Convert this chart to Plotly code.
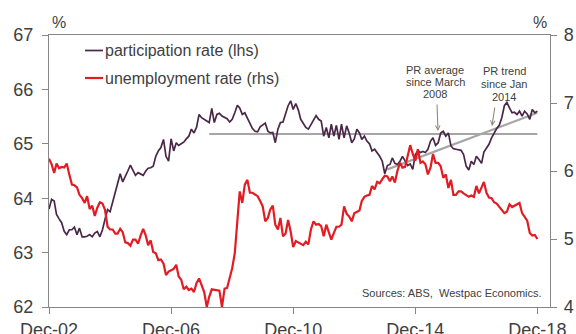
import pandas as pd
import plotly.graph_objects as go

# ---------------- data ----------------
start_month = "2002-12-01"
n_months = 193

participation_rate = [
    63.80, 63.98, 63.95, 63.70, 63.62, 63.55, 63.39, 63.33, 63.42, 63.42,
    63.47, 63.33, 63.45, 63.29, 63.29, 63.30, 63.33, 63.29, 63.36, 63.39,
    63.29, 63.42, 63.61, 63.79, 63.75, 63.94, 64.10, 64.28, 64.45, 64.30,
    64.42, 64.50, 64.61, 64.50, 64.42, 64.47, 64.44, 64.42, 64.50, 64.55,
    64.56, 64.59, 64.77, 64.87, 64.93, 65.08, 64.77, 64.68, 65.09, 64.87,
    65.02, 64.97, 65.00, 65.03, 65.09, 65.14, 65.27, 65.20, 65.30, 65.54,
    65.48, 65.45, 65.42, 65.39, 65.65, 65.39, 65.54, 65.56, 65.51, 65.48,
    65.46, 65.40, 65.45, 65.57, 65.71, 65.66, 65.54, 65.57, 65.48, 65.39,
    65.28, 65.23, 65.22, 65.31, 65.35, 65.38, 65.23, 65.20, 65.21, 65.02,
    65.27, 65.39, 65.40, 65.57, 65.70, 65.79, 65.63, 65.74, 65.62, 65.45,
    65.36, 65.30, 65.27, 65.36, 65.45, 65.52, 65.45, 65.42, 65.14, 65.30,
    65.11, 65.36, 65.14, 65.34, 65.08, 65.36, 65.11, 65.33, 65.20, 65.02,
    65.09, 65.27, 65.20, 65.08, 65.14, 65.05, 65.00, 64.87, 64.90, 64.84,
    64.77, 64.68, 64.45, 64.60, 64.62, 64.74, 64.64, 64.62, 64.68, 64.77,
    64.68, 64.60, 64.63, 64.53, 64.80, 64.87, 64.84, 64.86, 64.84, 64.90,
    65.05, 65.11, 64.97, 65.02, 65.20, 65.23, 65.14, 65.20, 64.96, 64.91,
    64.90, 64.89, 64.88, 64.80, 64.59, 64.52, 64.68, 64.62, 64.77, 64.71,
    64.64, 64.85, 64.92, 64.99, 65.11, 65.20, 65.28, 65.34, 65.48, 65.70,
    65.76, 65.66, 65.57, 65.58, 65.54, 65.60, 65.51, 65.60, 65.55, 65.45,
    65.63, 65.57, 65.60,
]

unemployment_rate = [
    6.18, 6.10, 5.97, 6.11, 6.04, 6.06, 6.05, 6.11, 5.95, 5.80,
    5.79, 5.76, 5.65, 5.60, 5.53, 5.63, 5.44, 5.49, 5.34, 5.46,
    5.54, 5.52, 5.43, 5.18, 5.14, 5.14, 5.08, 5.08, 5.15, 5.10,
    4.95, 4.94, 4.90, 4.99, 4.99, 4.93, 5.05, 5.15, 5.05, 4.91,
    4.98, 4.81, 4.79, 4.69, 4.70, 4.64, 4.47, 4.52, 4.54, 4.56,
    4.62, 4.45, 4.40, 4.26, 4.30, 4.25, 4.27, 4.22, 4.35, 4.42,
    4.32, 4.22, 4.00, 4.15, 4.26, 4.25, 4.25, 4.24, 4.00, 4.27,
    4.28, 4.42, 4.57, 4.79, 5.24, 5.70, 5.53, 5.80, 5.87, 5.68,
    5.68, 5.65, 5.63, 5.56, 5.48, 5.26, 5.31, 5.43, 5.49, 5.21,
    5.14, 5.31, 5.04, 5.08, 5.28, 5.11, 4.88, 4.97, 4.95, 4.93,
    4.91, 4.96, 4.92, 5.14, 5.26, 5.21, 5.22, 5.19, 5.04, 5.21,
    5.11, 4.99, 5.09, 5.18, 5.18, 5.21, 5.48, 5.37, 5.33, 5.26,
    5.38, 5.40, 5.42, 5.56, 5.62, 5.64, 5.65, 5.78, 5.73, 5.84,
    5.82, 5.88, 5.93, 5.92, 5.85, 5.92, 5.83, 6.00, 6.12, 6.05,
    6.06, 6.22, 6.38, 6.25, 6.15, 6.32, 6.12, 6.14, 6.10, 5.95,
    6.05, 6.25, 6.12, 6.12, 6.07, 5.90, 5.95, 5.75, 5.87, 5.65,
    5.65, 5.70, 5.70, 5.67, 5.64, 5.62, 5.64, 5.62, 5.78, 5.67,
    5.76, 5.84, 5.68, 5.61, 5.60, 5.54, 5.52, 5.47, 5.43, 5.38,
    5.40, 5.51, 5.47, 5.49, 5.51, 5.53, 5.38, 5.33, 5.27, 5.09,
    5.05, 5.06, 5.00,
]

pr_average_dates = ["2008-03-01", "2018-12-01"]
pr_average_value = [65.18, 65.18]
pr_trend_dates = ["2014-01-01", "2018-12-01"]
pr_trend_values = [64.53, 65.57]

tick_dates = ["2002-12-01", "2006-12-01", "2010-12-01", "2014-12-01", "2018-12-01"]
tick_labels = ["Dec-02", "Dec-06", "Dec-10", "Dec-14", "Dec-18"]

series_names = ["participation rate (lhs)", "unemployment rate (rhs)"]

dates = pd.date_range(start_month, periods=n_months, freq="MS")

# ---------------- styles ----------------
PURPLE = "#4a2748"
RED = "#e31b23"
GREY = "#a6a6a6"
AXIS = "#868686"
TEXT = "#404040"
ARROW = "#8c806c"
FONT = "Liberation Sans, Arial, sans-serif"

fig = go.Figure()

fig.add_trace(go.Scatter(x=pr_average_dates, y=pr_average_value, mode="lines",
                         line=dict(color=GREY, width=2.2), showlegend=False,
                         hoverinfo="skip"))
fig.add_trace(go.Scatter(x=pr_trend_dates, y=pr_trend_values, mode="lines",
                         line=dict(color=GREY, width=2.2), showlegend=False,
                         hoverinfo="skip"))
fig.add_trace(go.Scatter(x=dates, y=participation_rate, mode="lines",
                         name=series_names[0], showlegend=False,
                         line=dict(color=PURPLE, width=1.7)))
fig.add_trace(go.Scatter(x=dates, y=unemployment_rate, mode="lines",
                         name=series_names[1], showlegend=False,
                         line=dict(color=RED, width=2.2), yaxis="y2"))

axis_common = dict(showline=True, linecolor=AXIS, linewidth=1.3, ticks="outside",
                   ticklen=6, tickcolor=AXIS, tickwidth=1.3, showgrid=False,
                   zeroline=False, automargin=False,
                   tickfont=dict(size=18, color=TEXT, family=FONT))

fig.update_layout(
    width=576, height=334,
    margin=dict(l=49, r=26, t=35, b=27, autoexpand=False),
    paper_bgcolor="white", plot_bgcolor="white",
    font=dict(family=FONT, color=TEXT),
    xaxis=dict(type="date", range=["2002-12-01", "2019-05-01"],
               tickvals=tick_dates, ticktext=tick_labels, mirror=True, **axis_common),
    yaxis=dict(range=[62, 67], tickvals=[62, 63, 64, 65, 66, 67],
               ticklabelstandoff=5, **axis_common),
    yaxis2=dict(range=[4, 8], tickvals=[4, 5, 6, 7, 8], overlaying="y", side="right",
                ticklabelstandoff=3, **axis_common),
    showlegend=False,
)

def px_x(px):
    return (px - 49) / 501.0

def px_y(py):
    return (307 - py) / 272.0

def label(text, x, y, size, xanchor="center"):
    return dict(text=text, x=px_x(x), y=px_y(y), xref="paper", yref="paper",
                xanchor=xanchor, yanchor="middle", showarrow=False,
                font=dict(size=size, color=TEXT, family=FONT))

# legend (drawn as line samples + labels)
shapes = []
annos = []
for name, col, w, cy in [(series_names[0], PURPLE, 1.7, 50.5), (series_names[1], RED, 2.2, 78)]:
    shapes.append(dict(type="line", xref="paper", yref="paper",
                       x0=px_x(85), x1=px_x(103), y0=px_y(cy), y1=px_y(cy),
                       line=dict(color=col, width=w)))
    annos.append(label(name, 102.5, cy, 16, xanchor="left"))

annos.append(label("%", 59, 23, 16))
annos.append(label("%", 540, 23, 16))
for txt, cy in [("PR average", 69.5), ("since March", 81.7), ("2008", 94)]:
    annos.append(label(txt, 435, cy, 11))
for txt, cy in [("PR trend", 70.5), ("since Jan", 83.5), ("2014", 96.7)]:
    annos.append(label(txt, 504, cy, 11))
annos.append(dict(text="", x=px_x(438), y=px_y(131), xref="paper", yref="paper",
                  showarrow=True, ax=-1, ay=-28, arrowhead=5, arrowsize=0.9,
                  arrowwidth=1, arrowcolor=ARROW))
annos.append(dict(text="", x=px_x(492), y=px_y(126), xref="paper", yref="paper",
                  showarrow=True, ax=3, ay=-20, arrowhead=5, arrowsize=0.9,
                  arrowwidth=1, arrowcolor=ARROW))
annos.append(label("Sources: ABS,  Westpac Economics.", 544, 293, 11, xanchor="right"))
fig.update_layout(annotations=annos, shapes=shapes)

fig.write_html("out.html")
